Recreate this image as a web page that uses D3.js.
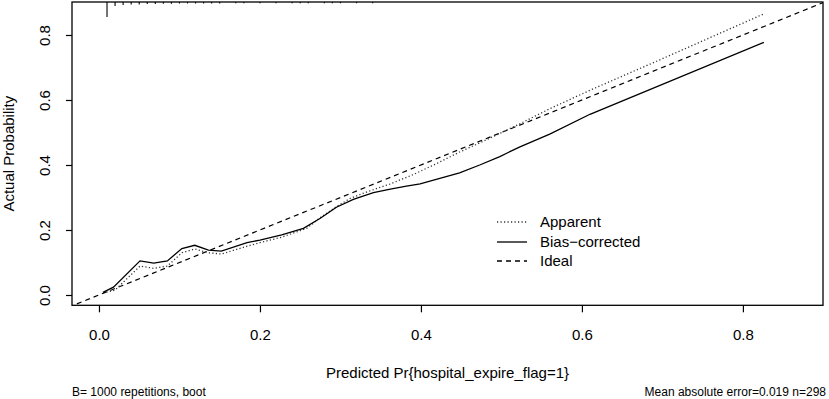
<!DOCTYPE html>
<html>
<head>
<meta charset="utf-8">
<script src="https://cdn.jsdelivr.net/npm/d3@7/dist/d3.min.js"></script>
<style>
  html, body { margin: 0; padding: 0; background: #fff; }
  svg { display: block; font-family: "Liberation Sans", Arial, sans-serif; }
</style>
</head>
<body>
<svg id="chart" width="829" height="399"></svg>
<script>
// ---------- data ----------
const xTicks = [0, 0.2, 0.4, 0.6, 0.8];
const yTicks = [0, 0.2, 0.4, 0.6, 0.8];

// Apparent calibration curve (predicted, observed)
const apparentX = [0.005, 0.02, 0.051, 0.068, 0.085, 0.103, 0.119, 0.136, 0.152, 0.184, 0.2, 0.227, 0.258, 0.275, 0.295, 0.312, 0.328, 0.3615, 0.39, 0.42, 0.448, 0.473, 0.498, 0.523, 0.56, 0.61, 0.70, 0.826];
const apparentY = [0.006, 0.015, 0.089, 0.082, 0.089, 0.130, 0.1415, 0.130, 0.126, 0.150, 0.161, 0.178, 0.205, 0.238, 0.272, 0.297, 0.313, 0.3415, 0.370, 0.405, 0.440, 0.468, 0.497, 0.527, 0.573, 0.630, 0.727, 0.865];

// Bias-corrected calibration curve
const biasX = [0.005, 0.018, 0.051, 0.068, 0.085, 0.103, 0.119, 0.136, 0.152, 0.184, 0.2, 0.227, 0.254, 0.275, 0.295, 0.316, 0.341, 0.362, 0.382, 0.399, 0.419, 0.448, 0.473, 0.498, 0.523, 0.56, 0.61, 0.826];
const biasY = [0.008, 0.024, 0.105, 0.098, 0.105, 0.143, 0.153, 0.138, 0.135, 0.161, 0.169, 0.185, 0.205, 0.236, 0.270, 0.294, 0.315, 0.326, 0.335, 0.342, 0.356, 0.376, 0.400, 0.426, 0.456, 0.495, 0.556, 0.777];

// Distribution of predicted risk (spikes at top), relative frequency
const riskX    = [0.01, 0.02, 0.03, 0.04, 0.05, 0.06, 0.07, 0.08, 0.09, 0.10, 0.11, 0.12, 0.13, 0.14, 0.15, 0.17, 0.18, 0.20, 0.22, 0.24, 0.25, 0.26, 0.28, 0.29, 0.30, 0.32, 0.34];
const riskFreq = [150, 40, 30, 26, 24, 20, 20, 18, 18, 16, 16, 15, 15, 14, 14, 10, 10, 10, 10, 10, 10, 10, 10, 10, 10, 10, 10];

const legendLabels = ["Apparent", "Bias\u2212corrected", "Ideal"];
const xTitle = "Predicted Pr{hospital_expire_flag=1}";
const yTitle = "Actual Probability";
const subLeft = "B= 1000 repetitions, boot";
const subRight = "Mean absolute error=0.019 n=298";

// ---------- layout ----------
const svg = d3.select("#chart");
const L = 72, R = 823, T = 2, B = 305.3;
const x = d3.scaleLinear().domain([-0.0335, 0.8995]).range([L, R]);
const y = d3.scaleLinear().domain([-0.0317, 0.9015]).range([B, T]);
const fs = 15;

// clip
svg.append("defs").append("clipPath").attr("id", "clip")
  .append("rect").attr("x", L).attr("y", T).attr("width", R - L).attr("height", B - T);

const plot = svg.append("g").attr("clip-path", "url(#clip)");

// ideal line
plot.append("line")
  .attr("x1", x(-0.1)).attr("y1", y(-0.1))
  .attr("x2", x(1)).attr("y2", y(1))
  .attr("stroke", "#000").attr("stroke-width", 1.2)
  .attr("stroke-dasharray", "5,4");

const line = d3.line().x(d => x(d[0])).y(d => y(d[1]));

plot.append("path")
  .datum(apparentX.map((v, i) => [v, apparentY[i]]))
  .attr("d", line).attr("fill", "none")
  .attr("stroke", "#333").attr("stroke-width", 1.3)
  .attr("stroke-dasharray", "1.2,2.3");

plot.append("path")
  .datum(biasX.map((v, i) => [v, biasY[i]]))
  .attr("d", line).attr("fill", "none")
  .attr("stroke", "#000").attr("stroke-width", 1.3);

// risk distribution spikes
const hScale = d3.scaleLinear().domain([0, d3.max(riskFreq)]).range([0, 15]);
plot.selectAll("line.spike").data(riskX).enter().append("line")
  .attr("class", "spike")
  .attr("x1", d => x(d)).attr("x2", d => x(d))
  .attr("y1", T)
  .attr("y2", (d, i) => T + Math.max(1.2, hScale(riskFreq[i])))
  .attr("stroke", "#000").attr("stroke-width", 1.1);

// box
svg.append("rect")
  .attr("x", L).attr("y", T).attr("width", R - L).attr("height", B - T)
  .attr("fill", "none").attr("stroke", "#000").attr("stroke-width", 1.3);

// x axis
const gx = svg.append("g").attr("transform", `translate(0,${B})`)
  .call(d3.axisBottom(x).tickValues(xTicks).tickFormat(d3.format(".1f")).tickSize(7));
gx.select(".domain").remove();
gx.selectAll(".tick line").attr("stroke", "#000").attr("stroke-width", 1.2);
gx.selectAll(".tick text").attr("y", 24).attr("font-size", fs)
  .attr("font-family", "Liberation Sans, Arial, sans-serif").attr("fill", "#000");

// y axis
const gy = svg.append("g").attr("transform", `translate(${L},0)`)
  .call(d3.axisLeft(y).tickValues(yTicks).tickFormat(d3.format(".1f")).tickSize(6));
gy.select(".domain").remove();
gy.selectAll(".tick line").attr("stroke", "#000").attr("stroke-width", 1.2);
gy.selectAll(".tick text")
  .attr("x", null).attr("dy", null)
  .attr("text-anchor", "middle")
  .attr("transform", `translate(${50 - L},0) rotate(-90)`)
  .attr("font-size", fs)
  .attr("font-family", "Liberation Sans, Arial, sans-serif").attr("fill", "#000");

// titles
svg.append("text").attr("x", (L + R) / 2).attr("y", 378)
  .attr("text-anchor", "middle").attr("font-size", fs).text(xTitle);
svg.append("text")
  .attr("transform", `translate(14,${(T + B) / 2}) rotate(-90)`)
  .attr("text-anchor", "middle").attr("font-size", fs).text(yTitle);

svg.append("text").attr("x", 72).attr("y", 396)
  .attr("font-size", 12).text(subLeft);
svg.append("text").attr("x", 826).attr("y", 396)
  .attr("text-anchor", "end").attr("font-size", 12).text(subRight);

// legend
const legY = [222, 242, 261];
const legDash = ["1.2,2.3", null, "5,4"];
const legColor = ["#333", "#000", "#000"];
const leg = svg.append("g");
legendLabels.forEach((lab, i) => {
  leg.append("line")
    .attr("x1", 497).attr("x2", 527).attr("y1", legY[i]).attr("y2", legY[i])
    .attr("stroke", legColor[i]).attr("stroke-width", 1.3)
    .attr("stroke-dasharray", legDash[i]);
  leg.append("text").attr("x", 540).attr("y", legY[i] + 5.4)
    .attr("font-size", fs).text(lab);
});
</script>
</body>
</html>
